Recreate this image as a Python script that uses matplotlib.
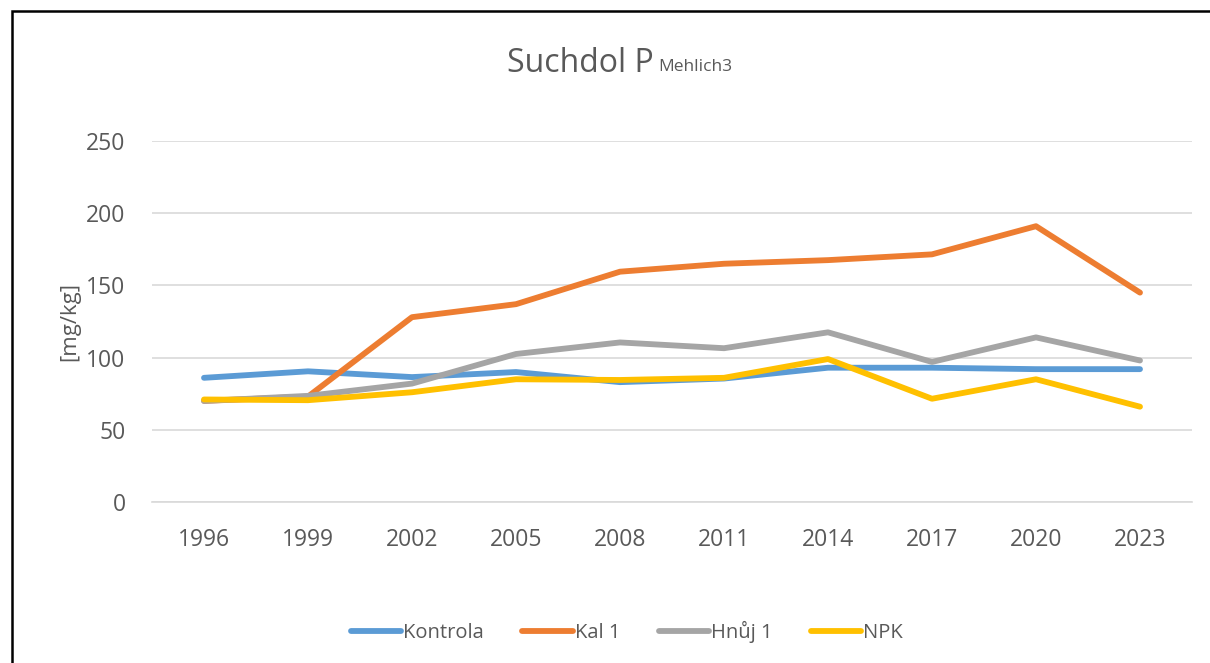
import matplotlib
matplotlib.use("Agg")
import matplotlib.pyplot as plt
from matplotlib.patches import Rectangle

years = ["1996", "1999", "2002", "2005", "2008", "2011", "2014", "2017", "2020", "2023"]
kontrola = [86, 90.5, 86.5, 90, 83, 85.5, 93, 93, 92, 92]
kal1 = [70, 73, 128, 137, 159.5, 165, 167.5, 171.5, 191, 145]
hnuj1 = [70, 73.5, 82, 102.5, 110.5, 106.5, 117.5, 97, 114, 98]
npk = [71, 70.5, 76, 85, 84.5, 86, 99, 71.5, 85, 66]

series = [
    ("Kontrola", kontrola, "#5b9bd5"),
    ("Kal 1", kal1, "#ed7d31"),
    ("Hnůj 1", hnuj1, "#a5a5a5"),
    ("NPK", npk, "#ffc000"),
]

plt.rcParams["font.family"] = ["Open Sans", "DejaVu Sans"]
text_col = "#595959"

W, H = 1210, 663
fig = plt.figure(figsize=(W / 100, H / 100), dpi=100)
ax = fig.add_axes([152 / W, 1 - 502 / H, (1192 - 152) / W, (502 - 141) / H])

x = list(range(len(years)))
for name, vals, col in series:
    ax.plot(x, vals, color=col, lw=4.2, solid_capstyle="round",
            solid_joinstyle="round", label=name)

ax.set_xlim(-0.5, len(years) - 0.5)
ax.set_ylim(0, 250)
ax.set_yticks([0, 50, 100, 150, 200, 250])
ax.set_xticks(x)
ax.set_xticklabels(years)
ax.grid(axis="y", color="#d9d9d9", lw=1.2)
ax.set_axisbelow(True)
for s in ["top", "right", "left"]:
    ax.spines[s].set_visible(False)
ax.spines["bottom"].set_color("#d9d9d9")
ax.spines["bottom"].set_linewidth(1.2)
ax.tick_params(length=0, labelsize=16.5, colors=text_col)
ax.tick_params(axis="y", pad=19)
ax.tick_params(axis="x", pad=19)

ax.set_ylabel("[mg/kg]", fontsize=16, color=text_col)
ax.yaxis.set_label_coords(-72 / (1192 - 152), 0.5)

fig.text(654 / W, 1 - 72 / H, "Suchdol P", fontsize=23, color=text_col,
         ha="right", va="baseline")
fig.text(658 / W, 1 - 71 / H, "Mehlich3", fontsize=12.5, color=text_col,
         ha="left", va="baseline")

leg = fig.legend(loc="center", bbox_to_anchor=(627 / W, 1 - 632 / H), ncol=4,
                 frameon=False, fontsize=14.5, handlelength=2.5, handletextpad=0.1,
                 columnspacing=1.9, labelcolor=text_col)

fig.patches.append(Rectangle((12 / W, -0.1), 1.2, 1 - 11 / H + 0.1,
                             transform=fig.transFigure, fill=False,
                             edgecolor="black", lw=1.8))

fig.savefig("out.png", dpi=100)
